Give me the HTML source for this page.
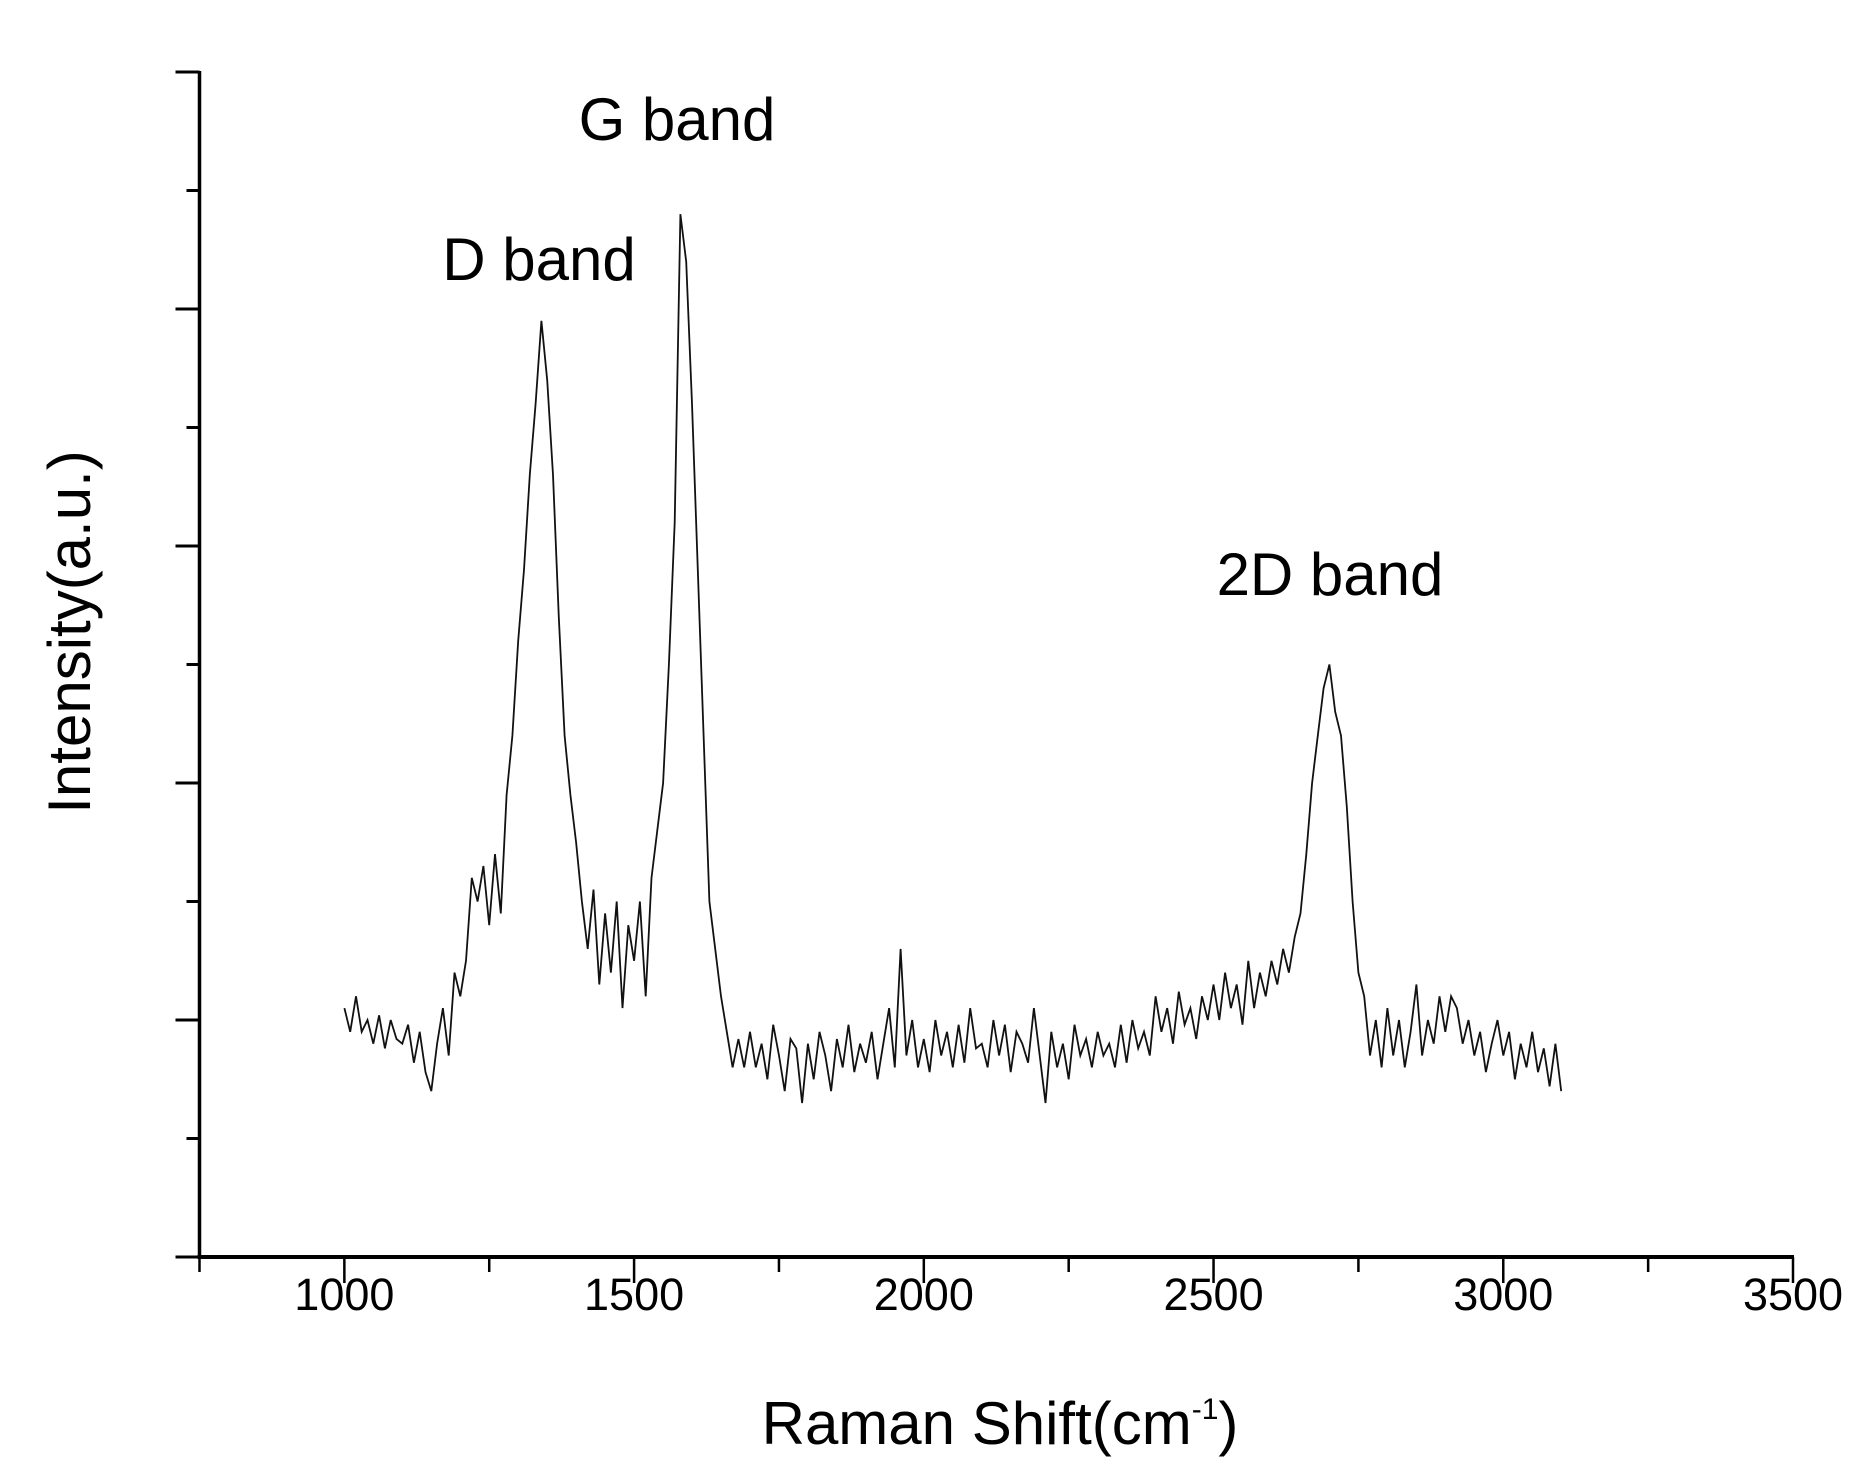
<!DOCTYPE html>
<html><head><meta charset="utf-8"><style>
html,body{margin:0;padding:0;background:#fff;}
svg{display:block;font-family:"Liberation Sans",Arial,sans-serif;}
</style></head><body>
<svg id="chart" width="1870" height="1484" viewBox="0 0 1870 1484" xmlns="http://www.w3.org/2000/svg">
<g id="axes"></g>
<polyline id="series" fill="none" stroke="#111" stroke-width="1.8" stroke-linejoin="miter"/>
<text x="677" y="140" font-size="60" text-anchor="middle">G band</text>
<text x="539" y="280" font-size="60" text-anchor="middle">D band</text>
<text x="1330" y="595" font-size="60" text-anchor="middle">2D band</text>
<text x="1000" y="1444" font-size="60" text-anchor="middle">Raman Shift(cm<tspan font-size="30" dy="-25">-1</tspan><tspan dy="25">)</tspan></text>
<text transform="translate(90,632) rotate(-90)" font-size="60" text-anchor="middle">Intensity(a.u.)</text>
</svg>
<script>
const xStart = 1000;
const xStep = 10;
const intensity = [
1.05,0.95,1.1,0.95,1.0,0.9,1.02,0.88,1.0,0.92,
0.9,0.98,0.82,0.95,0.78,0.7,0.9,1.05,0.85,1.2,
1.1,1.25,1.6,1.5,1.65,1.4,1.7,1.45,1.95,2.2,
2.6,2.9,3.3,3.6,3.95,3.7,3.3,2.7,2.2,1.95,
1.75,1.5,1.3,1.55,1.15,1.45,1.2,1.5,1.05,1.4,
1.25,1.5,1.1,1.6,1.8,2.0,2.5,3.1,4.4,4.2,
3.6,2.9,2.2,1.5,1.3,1.1,0.95,0.8,0.92,0.8,
0.95,0.8,0.9,0.75,0.98,0.85,0.7,0.92,0.88,0.65,
0.9,0.75,0.95,0.85,0.7,0.92,0.8,0.98,0.78,0.9,
0.82,0.95,0.75,0.9,1.05,0.8,1.3,0.85,1.0,0.8,
0.92,0.78,1.0,0.85,0.95,0.8,0.98,0.82,1.05,0.88,
0.9,0.8,1.0,0.85,0.98,0.78,0.95,0.9,0.82,1.05,
0.85,0.65,0.95,0.8,0.9,0.75,0.98,0.85,0.92,0.8,
0.95,0.85,0.9,0.8,0.98,0.82,1.0,0.88,0.95,0.85,
1.1,0.95,1.05,0.9,1.12,0.98,1.05,0.92,1.1,1.0,
1.15,1.0,1.2,1.05,1.15,0.98,1.25,1.05,1.2,1.1,
1.25,1.15,1.3,1.2,1.35,1.45,1.7,2.0,2.2,2.4,
2.5,2.3,2.2,1.9,1.5,1.2,1.1,0.85,1.0,0.8,
1.05,0.85,1.0,0.8,0.95,1.15,0.85,1.0,0.9,1.1,
0.95,1.1,1.05,0.9,1.0,0.85,0.95,0.78,0.9,1.0,
0.85,0.95,0.75,0.9,0.8,0.95,0.78,0.88,0.72,0.9,0.7
];
const xTickLabels = [1000,1500,2000,2500,3000,3500];
const yMajorTicks = [0,1,2,3,4,5];

const X0=199.5, XMIN=750, XMAX=3500, X1=1793;
const Y0=1257, PERUNIT=237;
function sx(v){return X0+(v-XMIN)*(X1-X0)/(XMAX-XMIN);}
function sy(v){return Y0-v*PERUNIT;}

const NS="http://www.w3.org/2000/svg";
const axes=document.getElementById('axes');
function line(x1,y1,x2,y2,w){const l=document.createElementNS(NS,'line');l.setAttribute('x1',x1);l.setAttribute('y1',y1);l.setAttribute('x2',x2);l.setAttribute('y2',y2);l.setAttribute('stroke','#000');l.setAttribute('stroke-width',w);axes.appendChild(l);return l;}
let a=line(X0,sy(5)-1,X0,Y0+2,3.5);


a=line(X0-2,Y0,X1+1,Y0,4);


yMajorTicks.forEach(v=>{
  const t=line(X0-24,sy(v),X0,sy(v),3);
  
  
  if(v<5){const m=line(X0-13,sy(v+0.5),X0,sy(v+0.5),3);
  
  }
});
for(let v=750;v<=3500;v+=250){
  const major=(v%500===0);
  const t=line(sx(v),Y0,sx(v),Y0+(major?26:15),2.5);
  
  
}
xTickLabels.forEach(v=>{
  const t=document.createElementNS(NS,'text');
  t.setAttribute('x',sx(v));t.setAttribute('y',1310);
  t.setAttribute('font-size','45');t.setAttribute('text-anchor','middle');
  t.textContent=v;
  
  
  axes.appendChild(t);
});
const pts=intensity.map((v,i)=>sx(xStart+i*xStep).toFixed(1)+','+sy(v).toFixed(1)).join(' ');
document.getElementById('series').setAttribute('points',pts);
</script>
</body></html>
